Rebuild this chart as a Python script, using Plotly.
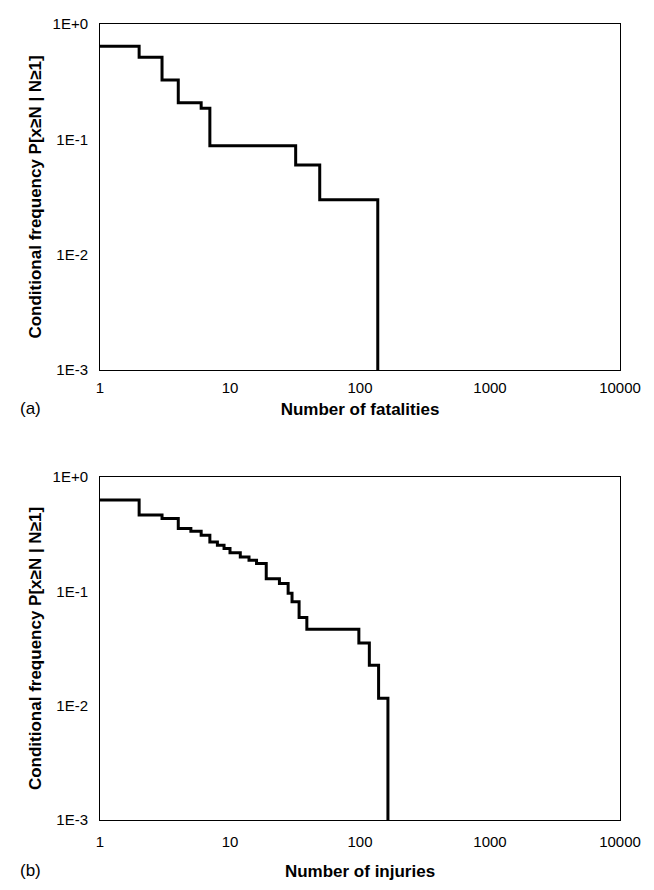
import plotly.graph_objects as go
from plotly.subplots import make_subplots

# (a) fatalities: step points (N, P[x>=N | N>=1])
fatal_n = [1, 2, 3, 4, 6, 7, 32, 49, 137]
fatal_p = [0.64, 0.515, 0.327, 0.208, 0.186, 0.088, 0.0598, 0.030, 0.001]

# (b) injuries
inj_n = [1, 2, 3, 4, 5, 6, 7, 8, 9, 10, 12, 14, 16, 19, 24, 28, 30, 34, 39, 98, 118, 139, 164]
inj_p = [0.63, 0.465, 0.433, 0.354, 0.335, 0.309, 0.27, 0.253, 0.237, 0.217, 0.2, 0.187,
         0.175, 0.129, 0.117, 0.096, 0.081, 0.059, 0.0467, 0.0354, 0.0226, 0.0116, 0.001]

x_tickvals = [1, 10, 100, 1000, 10000]
x_ticktext = ["1", "10", "100", "1000", "10000"]
y_tickvals = [1, 0.1, 0.01, 0.001]
y_ticktext = ["1E+0", "1E-1", "1E-2", "1E-3"]

y_title = "Conditional frequency P[x≥N | N≥1]"
x_titles = ["Number of fatalities", "Number of injuries"]
panel_labels = ["(a)", "(b)"]

fig = make_subplots(rows=2, cols=1)
fig.add_trace(go.Scatter(x=fatal_n, y=fatal_p, mode="lines", line=dict(color="black", width=3, shape="hv"),
                         showlegend=False), row=1, col=1)
fig.add_trace(go.Scatter(x=inj_n, y=inj_p, mode="lines", line=dict(color="black", width=3, shape="hv"),
                         showlegend=False), row=2, col=1)

H = 890
mt, mb = 16, 78
ph = H - mt - mb
top_dom = [1 - 346 / ph, 1]
bot_dom = [0, 343 / ph]

font_tick = dict(family="Liberation Sans, Arial, sans-serif", size=15, color="black")
font_title = dict(family="Liberation Sans, Arial, sans-serif", size=17, color="black", weight="bold")

label_standoffs = [4, 8]
title_standoffs = [8, 16]

for i, dom in enumerate([top_dom, bot_dom]):
    r = i + 1
    fig.update_xaxes(type="log", range=[0, 4], tickvals=x_tickvals, ticktext=x_ticktext,
                     showgrid=False, zeroline=False, showline=True, linecolor="black", linewidth=1,
                     mirror=True, ticks="", tickfont=font_tick, ticklabelstandoff=label_standoffs[i],
                     automargin=False,
                     title=dict(text=x_titles[i], font=font_title, standoff=title_standoffs[i]),
                     row=r, col=1)
    fig.update_yaxes(type="log", range=[-3, 0], tickvals=y_tickvals, ticktext=y_ticktext,
                     showgrid=False, zeroline=False, showline=True, linecolor="black", linewidth=1,
                     mirror=True, ticks="", tickfont=font_tick, ticklabelstandoff=8, domain=dom,
                     automargin=False,
                     title=dict(text=y_title, font=font_title, standoff=6), row=r, col=1)

fig.add_annotation(text=panel_labels[0], xref="paper", yref="paper", x=-0.158, y=top_dom[0] - 38 / ph,
                   xanchor="left", yanchor="middle", showarrow=False,
                   font=dict(family="Liberation Sans, Arial, sans-serif", size=17, color="black"))
fig.add_annotation(text=panel_labels[1], xref="paper", yref="paper", x=-0.158, y=bot_dom[0] - 50 / ph,
                   xanchor="left", yanchor="middle", showarrow=False,
                   font=dict(family="Liberation Sans, Arial, sans-serif", size=17, color="black"))

fig.update_layout(width=654, height=H, margin=dict(l=92, r=42, t=mt, b=mb, autoexpand=False),
                  paper_bgcolor="white", plot_bgcolor="white")

fig.write_html("out.html")
